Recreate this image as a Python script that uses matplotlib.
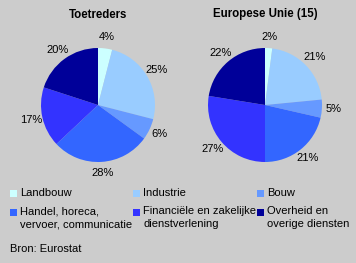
import matplotlib.pyplot as plt
from matplotlib.patches import Rectangle

plt.rcParams['font.family'] = ['Liberation Sans', 'DejaVu Sans']

# Sectoren en aandelen (%)
sectoren = ['Landbouw', 'Industrie', 'Bouw',
            'Handel, horeca,\nvervoer, communicatie',
            'Financiële en zakelijke\ndienstverlening',
            'Overheid en\noverige diensten']
toetreders = [4, 25, 6, 28, 17, 20]
eu15 = [2, 21, 5, 21, 27, 22]
titels = ['Toetreders', 'Europese Unie (15)']
kleuren = ['#CCFFFF', '#99CCFF', '#6699FF', '#3366FF', '#3333FF', '#000099']

W, H = 356, 263
bg = '#CCCCCC'

fig = plt.figure(figsize=(W / 100, H / 100), dpi=100, facecolor=bg)

R = 57  # straal in pixels
lim = 1.5
centra = [(98, 105), (265, 105)]

for (cx, cy), waarden, titel in zip(centra, [toetreders, eu15], titels):
    size = 2 * lim * R
    ax = fig.add_axes([(cx - size / 2) / W, (H - cy - size / 2) / H, size / W, size / H])
    ax.set_facecolor('none')
    wedges, texts = ax.pie(waarden, colors=kleuren, startangle=90, counterclock=False,
                           labels=[f'{v}%' for v in waarden], labeldistance=1.2,
                           wedgeprops=dict(linewidth=0), textprops=dict(fontsize=8))
    for t in texts:
        t.set_ha('center')
        t.set_va('center')
    ax.set_xlim(-lim, lim)
    ax.set_ylim(-lim, lim)
    ax.set_aspect('equal')
    ax.axis('off')
    fig.text(cx / W, 1 - 14.5 / H, titel, ha='center', va='center',
             fontsize=8.3, fontweight='bold')

# legenda (3 kolommen, rij voor rij)
kol_x = [10, 133, 257]
rij_y = [193, 212]
for i, (naam, kleur) in enumerate(zip(sectoren, kleuren)):
    x = kol_x[i % 3]
    y = rij_y[i // 3]
    fig.patches.append(Rectangle((x / W, 1 - (y + 3.5) / H), 7 / W, 7 / H,
                                 transform=fig.transFigure, facecolor=kleur,
                                 edgecolor='none'))
    fig.text((x + 10) / W, 1 - (y - 5.5) / H, naam, ha='left', va='top',
             fontsize=8, linespacing=1.35)

fig.text(10 / W, 1 - 249 / H, 'Bron: Eurostat', ha='left', va='center', fontsize=8)

fig.savefig('out.png', dpi=100, facecolor=bg)
